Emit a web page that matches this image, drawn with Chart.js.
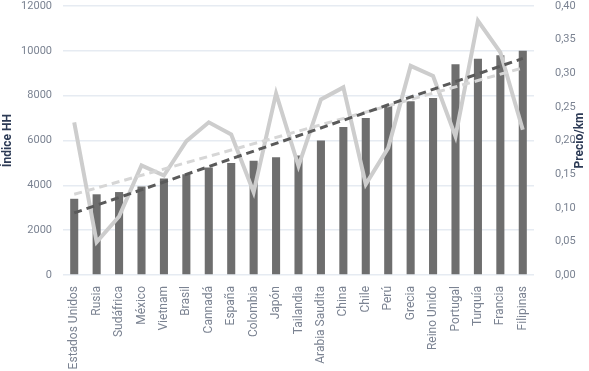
<!DOCTYPE html>
<html lang="es">
<head>
  <meta charset="UTF-8" />
  <title>Índice HH y Precio/km</title>
  <style>
    html, body { margin: 0; padding: 0; background: #fff; }
    .chart-box { width: 589px; height: 371px; position: relative; }
  </style>
</head>
<body>
  <div class="chart-box">
    <canvas id="grafico"></canvas>
  </div>

  <script src="https://cdn.jsdelivr.net/npm/chart.js"></script>
  <script>
    const paises = ['Estados Unidos', 'Rusia', 'Sudáfrica', 'México', 'Vietnam', 'Brasil', 'Cannadá', 'España',
      'Colombia', 'Japón', 'Tailandia', 'Arabia Saudita', 'China', 'Chile', 'Perú', 'Grecia', 'Reino Unido',
      'Portugal', 'Turquía', 'Francia', 'Filipinas'];
    const indiceHH = [3400, 3600, 3700, 3950, 4300, 4500, 4800, 5000, 5100, 5250, 5330, 6000, 6600, 7000, 7550,
      7750, 7900, 9400, 9650, 9800, 10000];
    const precioKm = [0.227, 0.049, 0.087, 0.163, 0.148, 0.199, 0.227, 0.209, 0.123, 0.270, 0.162, 0.261, 0.279,
      0.135, 0.189, 0.311, 0.296, 0.206, 0.378, 0.331, 0.216];
    // líneas de tendencia: valor al inicio y al final
    const tendenciaHH = [2770, 9660];
    const tendenciaPrecio = [0.120, 0.308];

    const colorTexto = '#7b8392';
    const colorTitulo = '#2c3a55';
    const fuente = 'Roboto, "DejaVu Sans", sans-serif';

    // extremos de la tendencia, el resto vacío (se une con spanGaps)
    function extremos(par) {
      return paises.map((_, i) => i === 0 ? par[0] : (i === paises.length - 1 ? par[1] : null));
    }

    // ancho fijo del eje y sin el relleno extra arriba
    function ajustarEje(ancho) {
      return scale => {
        scale.width = ancho;
        scale.paddingTop = 6;
        scale.paddingBottom = 0;
      };
    }

    const titulosEjes = {
      id: 'titulosEjes',
      afterDraw(chart) {
        const ctx = chart.ctx;
        const area = chart.chartArea;
        const centroY = (area.top + area.bottom) / 2;
        ctx.save();
        ctx.fillStyle = colorTitulo;
        ctx.font = 'bold 12px ' + fuente;
        ctx.textAlign = 'center';
        ctx.textBaseline = 'middle';
        [['Índice HH', 8], ['Precio/km', 580]].forEach(([txt, x]) => {
          ctx.save();
          ctx.translate(x, centroY);
          ctx.rotate(-Math.PI / 2);
          ctx.fillText(txt, 0, 0);
          ctx.restore();
        });
        ctx.restore();
      }
    };

    new Chart(document.getElementById('grafico'), {
      type: 'bar',
      data: {
        labels: paises,
        datasets: [
          {
            type: 'line',
            label: 'Tendencia Índice HH',
            data: extremos(tendenciaHH),
            yAxisID: 'y',
            borderColor: '#5a5a5a',
            borderWidth: 3,
            borderDash: [8, 5],
            pointRadius: 0,
            spanGaps: true,
            order: 1
          },
          {
            type: 'line',
            label: 'Tendencia Precio/km',
            data: extremos(tendenciaPrecio),
            yAxisID: 'y1',
            borderColor: '#d6d6d6',
            borderWidth: 3,
            borderDash: [8, 5],
            pointRadius: 0,
            spanGaps: true,
            order: 2
          },
          {
            type: 'line',
            label: 'Precio/km',
            data: precioKm,
            yAxisID: 'y1',
            borderColor: '#cdcdcd',
            borderWidth: 4,
            pointRadius: 0,
            tension: 0,
            order: 3
          },
          {
            label: 'Índice HH',
            data: indiceHH,
            yAxisID: 'y',
            backgroundColor: '#6e6e6e',
            barPercentage: 0.36,
            categoryPercentage: 1,
            order: 4
          }
        ]
      },
      options: {
        responsive: true,
        maintainAspectRatio: false,
        animation: false,
        layout: { padding: 0 },
        plugins: {
          legend: { display: false },
          tooltip: { enabled: false }
        },
        scales: {
          x: {
            grid: { display: false },
            border: { display: false },
            ticks: {
              color: colorTexto,
              font: { family: fuente, size: 12 },
              maxRotation: 90,
              minRotation: 90,
              autoSkip: false,
              padding: 3
            },
            afterFit(scale) { scale.height = 96; }
          },
          y: {
            position: 'left',
            min: 0,
            max: 12000,
            grid: { color: '#e6ebf2', lineWidth: 1.5, drawTicks: false },
            border: { display: false },
            ticks: {
              stepSize: 2000,
              color: colorTexto,
              font: { family: fuente, size: 11 },
              padding: 11,
              callback: v => String(v)
            },
            afterFit: ajustarEje(63)
          },
          y1: {
            position: 'right',
            min: 0,
            max: 0.4,
            grid: { display: false },
            border: { display: false },
            ticks: {
              stepSize: 0.05,
              color: colorTexto,
              font: { family: fuente, size: 11 },
              padding: 13,
              callback: v => v.toFixed(2).replace('.', ',')
            },
            afterFit: ajustarEje(55)
          }
        }
      },
      plugins: [titulosEjes]
    });
  </script>
</body>
</html>
